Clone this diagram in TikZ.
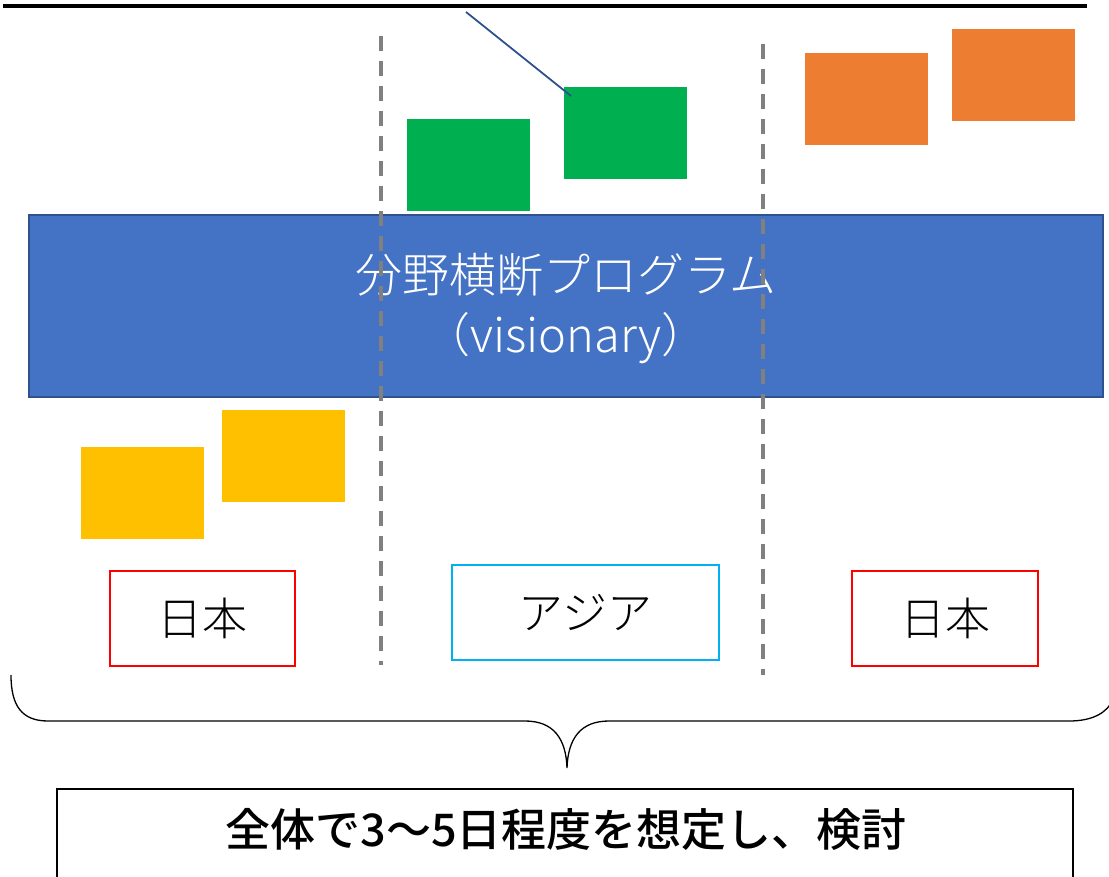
\documentclass[tikz,border=0pt]{standalone}
\usepackage{fontspec}
\newfontfamily\jp{Noto Sans CJK JP}
\newfontfamily\jpl{Noto Sans CJK JP}[UprightFont=* Light]
\newfontfamily\jpm{Noto Sans CJK JP}[UprightFont=* Medium]
\definecolor{barblue}{HTML}{4472C4}
\definecolor{barborder}{HTML}{2F528F}
\definecolor{ggreen}{HTML}{00B050}
\definecolor{oorange}{HTML}{ED7D31}
\definecolor{yyellow}{HTML}{FFC000}
\definecolor{ccyan}{HTML}{00B0F0}
\definecolor{dgray}{HTML}{808080}
\tikzset{
  sticky/.style={minimum width=123pt, minimum height=92pt, inner sep=0pt, draw=none},
  region/.style={draw=#1, line width=2.2pt, fill=white, inner sep=0pt, font=\jpl\fontsize{45}{50}\selectfont, text=black},
  divider/.style={dgray, line width=3.6pt, dash pattern=on 15pt off 10pt},
}
\begin{document}
\begin{tikzpicture}[x=1pt,y=-1pt]
\useasboundingbox (0,0) rectangle (1109,877);
% top rule
\coordinate (topL) at (3,6);
\coordinate (topR) at (1087,6);
\draw[line width=3.6pt] (topL) -- (topR);
% coloured stickies
\node[sticky, fill=ggreen] (g1) at (468.5,165) {};
\node[sticky, fill=ggreen] (g2) at (625.5,133) {};
\node[sticky, fill=oorange] (o1) at (866.5,99.5) {};
\node[sticky, fill=oorange] (o2) at (1013.5,75) {};
\node[sticky, fill=yyellow] (y1) at (142.5,493) {};
\node[sticky, fill=yyellow] (y2) at (283.5,455.5) {};
% diagonal connector
\coordinate (diagS) at (466,12);
\coordinate (diagE) at (571,96);
\draw[barborder, line width=1.8pt] (diagS) -- (diagE);
% blue bar
\node[fill=barblue, draw=barborder, line width=1.5pt, minimum width=1074pt, minimum height=182pt, inner sep=0pt] (bar) at (566,306) {};
\node[text=white, align=center, font=\jpl\fontsize{47}{60}\selectfont] (bartext) at (566,309)
  {分野横断プログラム\\（visionary）};
% dividers
\coordinate (d1t) at (381,36);
\coordinate (d1b) at (381,665);
\coordinate (d2t) at (763,44);
\coordinate (d2b) at (763,675);
\draw[divider] (d1t) -- (d1b);
\draw[divider] (d2t) -- (d2b);
% region labels
\node[region=red, minimum width=185pt, minimum height=95pt] (jp1) at (202.5,618.5) {日本};
\node[region=ccyan, minimum width=267pt, minimum height=95pt] (asia) at (585.5,612.5) {アジア};
\node[region=red, minimum width=186pt, minimum height=95pt] (jp2) at (945,618.5) {日本};
% brace
\coordinate (brL) at (11,675);
\coordinate (brTip) at (567,768);
\coordinate (brR) at (1113,700);
\draw[line width=1.3pt] (brL) .. controls (11,706) and (22,721) .. (48,721) -- (525,721)
   .. controls (553,721) and (566,738) .. (brTip)
   .. controls (568,738) and (581,721) .. (609,721) -- (1069,721)
   .. controls (1094,721) and (1107,712) .. (brR);
% summary box
\node[draw=black, line width=1.5pt, minimum width=1016pt, minimum height=120pt, inner sep=0pt, anchor=north] (sum) at (565,788) {};
\node[font=\jpm\fontsize{45}{50}\selectfont] (sumtext) at (566,829) {全体で3～5日程度を想定し、検討};
\end{tikzpicture}
\end{document}
